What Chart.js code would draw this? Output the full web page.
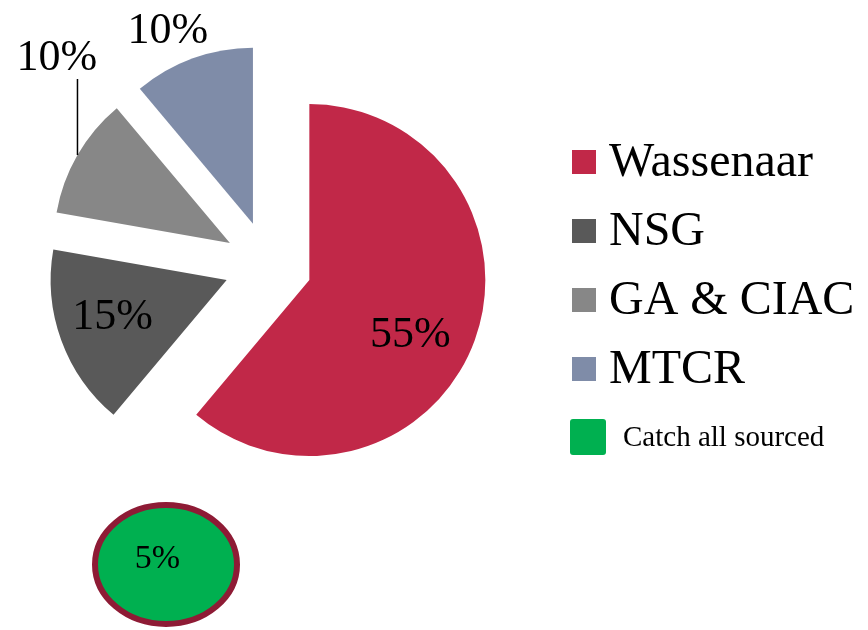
<!DOCTYPE html>
<html>
<head>
<meta charset="utf-8">
<script src="https://cdn.jsdelivr.net/npm/chart.js@4/dist/chart.umd.min.js"></script>
<style>
  html, body { margin: 0; padding: 0; background: #ffffff; }
  #wrap { position: relative; width: 868px; height: 630px; }
  canvas { display: block; }
</style>
</head>
<body>
<div id="wrap"><canvas id="c" width="868" height="630"></canvas></div>
<script>
// ---- data ----
const categories = ['Wassenaar', 'NSG', 'GA & CIAC', 'MTCR'];
const shares = [55, 15, 10, 10];
const extraCategory = 'Catch all sourced';
const extraShare = 5;

// ---- styles ----
const sliceColors = ['#C12848', '#595959', '#878787', '#7F8CA8'];
const extraColor = '#00B050';
const extraBorder = '#8E1B35';
const SERIF = '"Liberation Serif", "Times New Roman", serif';
const RADIUS = 176;
const EXPLODE = 44;           // pixel distance each slice is pulled out
// label placement relative to each slice's apex (dx, dy to text baseline centre)
const labelOffsets = [[101, 67], [-114, 49], [-173, -173], [-85, -181]];

// explode every slice by moving its apex out along its bisector
const explode = {
  id: 'explode',
  afterDatasetUpdate(chart, args) {
    args.meta.data.forEach(arc => {
      const mid = (arc.startAngle + arc.endAngle) / 2;
      arc.x += Math.cos(mid) * EXPLODE;
      arc.y += Math.sin(mid) * EXPLODE;
    });
  }
};

const extras = {
  id: 'extras',
  afterDatasetsDraw(chart) {
    const ctx = chart.ctx;
    const arcs = chart.getDatasetMeta(0).data;
    ctx.save();
    ctx.fillStyle = '#000';
    ctx.textAlign = 'center';
    ctx.textBaseline = 'alphabetic';
    ctx.font = '44px ' + SERIF;
    arcs.forEach((arc, i) => {
      const mid = (arc.startAngle + arc.endAngle) / 2;
      const ax = arc.x, ay = arc.y;
      const [dx, dy] = labelOffsets[i];
      const lx = ax + dx, ly = ay + dy;
      ctx.fillText(shares[i] + '%', lx, ly);
      if (i === 2) {
        // leader line from slice edge up to its label
        const ex = ax + Math.cos(mid) * arc.outerRadius;
        const ey = ay + Math.sin(mid) * arc.outerRadius;
        ctx.beginPath();
        ctx.strokeStyle = '#000';
        ctx.lineWidth = 1.5;
        ctx.moveTo(ex, ey);
        ctx.lineTo(ex, ly + 9);
        ctx.stroke();
      }
    });

    // separate "catch all" ellipse
    ctx.beginPath();
    ctx.ellipse(166, 564.5, 71, 59.5, 0, 0, Math.PI * 2);
    ctx.fillStyle = extraColor;
    ctx.fill();
    ctx.lineWidth = 6;
    ctx.strokeStyle = extraBorder;
    ctx.stroke();
    ctx.fillStyle = '#000';
    ctx.font = '34px ' + SERIF;
    ctx.fillText(extraShare + '%', 157.5, 568);

    // legend
    ctx.textAlign = 'left';
    ctx.font = '48px ' + SERIF;
    categories.forEach((name, i) => {
      const top = 150 + i * 69;
      ctx.fillStyle = sliceColors[i];
      ctx.fillRect(572, top, 24, 24);
      ctx.fillStyle = '#000';
      ctx.fillText(name, 609, top + 26);
    });
    ctx.beginPath();
    ctx.roundRect(570, 419, 36, 36, 3);
    ctx.fillStyle = extraColor;
    ctx.fill();
    ctx.fillStyle = '#000';
    ctx.font = '29px ' + SERIF;
    ctx.fillText(extraCategory, 623, 446);
    ctx.restore();
  }
};

new Chart(document.getElementById('c'), {
  type: 'pie',
  data: {
    labels: categories,
    datasets: [{
      data: shares,
      backgroundColor: sliceColors,
      borderWidth: 0,
      offset: 0
    }]
  },
  options: {
    responsive: false,
    devicePixelRatio: 1,
    animation: false,
    radius: RADIUS,
    layout: { padding: { left: 0, top: 0, right: 332, bottom: 100 } },
    plugins: {
      legend: { display: false },
      tooltip: { enabled: false }
    },
    events: []
  },
  plugins: [explode, extras]
});
</script>
</body>
</html>
